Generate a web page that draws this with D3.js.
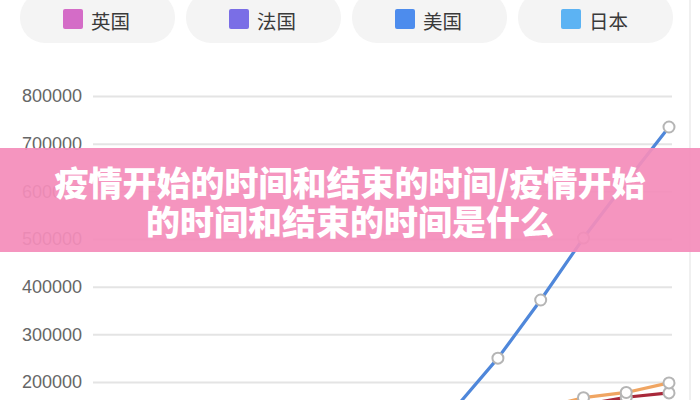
<!DOCTYPE html>
<html><head><meta charset="utf-8">
<script src="https://cdn.jsdelivr.net/npm/d3@7"></script>
<style>html,body{margin:0;padding:0;background:#fff;overflow:hidden}svg{display:block}</style>
</head><body>
<svg id="c" width="700" height="400"></svg>
<script>
// ---- data ----
const categories = ["3/24","3/26","3/28","3/30","4/1","4/3","4/5","4/7","4/9","4/11","4/13","4/15","4/17","4/19"];
const legendNames = ["英国","法国","美国","日本"];
const legendColors = ["#d46cc7","#7a6ee6","#4d8ced","#5cb3f3"];
const usValues    = [5000, 9000, 15000, 22000, 33000, 46000, 65000, 95000, 145000, 250000, 372000, 502000, 620000, 735000];
const spainValues = [40000, 56000, 72000, 85000, 102000, 117000, 126000, 132000, 137000, 141000, 145000, 167000, 178000, 198000];
const italyValues = [64000, 80000, 92000, 101000, 110000, 119000, 126000, 131000, 135000, 139000, 143000, 152000, 168000, 177000];
const ukValues    = [8000, 12000, 17000, 22000, 29000, 38000, 48000, 55000, 65000, 78000, 88000, 98000, 108000, 120000];
const franceValues= [22000, 29000, 38000, 44000, 52000, 65000, 70000, 78000, 86000, 93000, 98000, 103000, 110000, 115000];
const japanValues = [1100, 1300, 1500, 1800, 2300, 2800, 3500, 4200, 5300, 6700, 7600, 8600, 9800, 10800];
const yTicks = [200000, 300000, 400000, 500000, 600000, 700000, 800000];
const titleLines = ["疫情开始的时间和结束的时间/疫情开始", "的时间和结束的时间是什么"];

const series = [
  {name:"英国", values: ukValues, color: legendColors[0]},
  {name:"法国", values: franceValues, color: legendColors[1]},
  {name:"日本", values: japanValues, color: legendColors[3]},
  {name:"意大利", values: italyValues, color: "#a8283a"},
  {name:"西班牙", values: spainValues, color: "#f0a562"},
  {name:"美国", values: usValues, color: "#4f87da"}
];

const svg = d3.select("#c");
const font = "'Liberation Sans', Arial, sans-serif";
const cjk = "'Noto Sans CJK SC', sans-serif";

// scales
const y = d3.scaleLinear().domain([0, 800000]).range([477.3, 96]);
const x = d3.scalePoint().domain(categories).range([113, 669]);

// legend pills
const lg = svg.append("g");
legendNames.forEach((n, i) => {
  const g = lg.append("g").attr("transform", `translate(${20 + i*166},0)`);
  g.append("rect").attr("x", 0).attr("y", -8).attr("width", 155).attr("height", 51).attr("rx", 25).attr("fill", "#f4f4f4");
  g.append("rect").attr("x", 43).attr("y", 9).attr("width", 20).attr("height", 20).attr("rx", 2).attr("fill", legendColors[i]);
  g.append("text").attr("x", 71).attr("y", 20).attr("dominant-baseline", "central")
    .attr("font-family", cjk).attr("font-size", 19.5).attr("fill", "#3a3a3a").text(n);
});

// grid + y axis labels
const yAxis = d3.axisLeft(y).tickValues(yTicks).tickSize(-579).tickPadding(11).tickFormat(d3.format("d"));
const ga = svg.append("g").attr("transform", "translate(93,0)").call(yAxis);
ga.select(".domain").remove();
ga.selectAll(".tick line").attr("stroke", "#e4e4e4").attr("stroke-width", 2);
ga.selectAll(".tick text").attr("font-family", font).attr("font-size", 18).attr("fill", "#666");

// lines
const line = d3.line().x((d, i) => x(categories[i])).y(d => y(d));
const lg2 = svg.append("g");
series.forEach(s => {
  lg2.append("path").datum(s.values).attr("d", line).attr("fill", "none")
    .attr("stroke", s.color).attr("stroke-width", 3.2).attr("stroke-linejoin", "round");
});
series.forEach(s => {
  lg2.selectAll(null).data(s.values).enter().append("circle")
    .attr("cx", (d, i) => x(categories[i])).attr("cy", d => y(d)).attr("r", 5.5)
    .attr("fill", "#fff").attr("stroke", "#b5b5b5").attr("stroke-width", 2);
});

// right edge line
svg.append("line").attr("x1", 690).attr("x2", 690).attr("y1", 0).attr("y2", 400).attr("stroke", "#f0f0f0").attr("stroke-width", 2);

// banner
svg.append("rect").attr("x", 0).attr("y", 148).attr("width", 700).attr("height", 104)
  .attr("fill", "#f48dba").attr("opacity", 0.93);
titleLines.forEach((t, i) => {
  svg.append("text").attr("x", 350).attr("y", 181 + i*39).attr("text-anchor", "middle")
    .attr("dominant-baseline", "central").attr("font-family", cjk).attr("font-weight", 900)
    .attr("font-size", 34).attr("fill", "#fff").text(t);
});
</script>
</body></html>
